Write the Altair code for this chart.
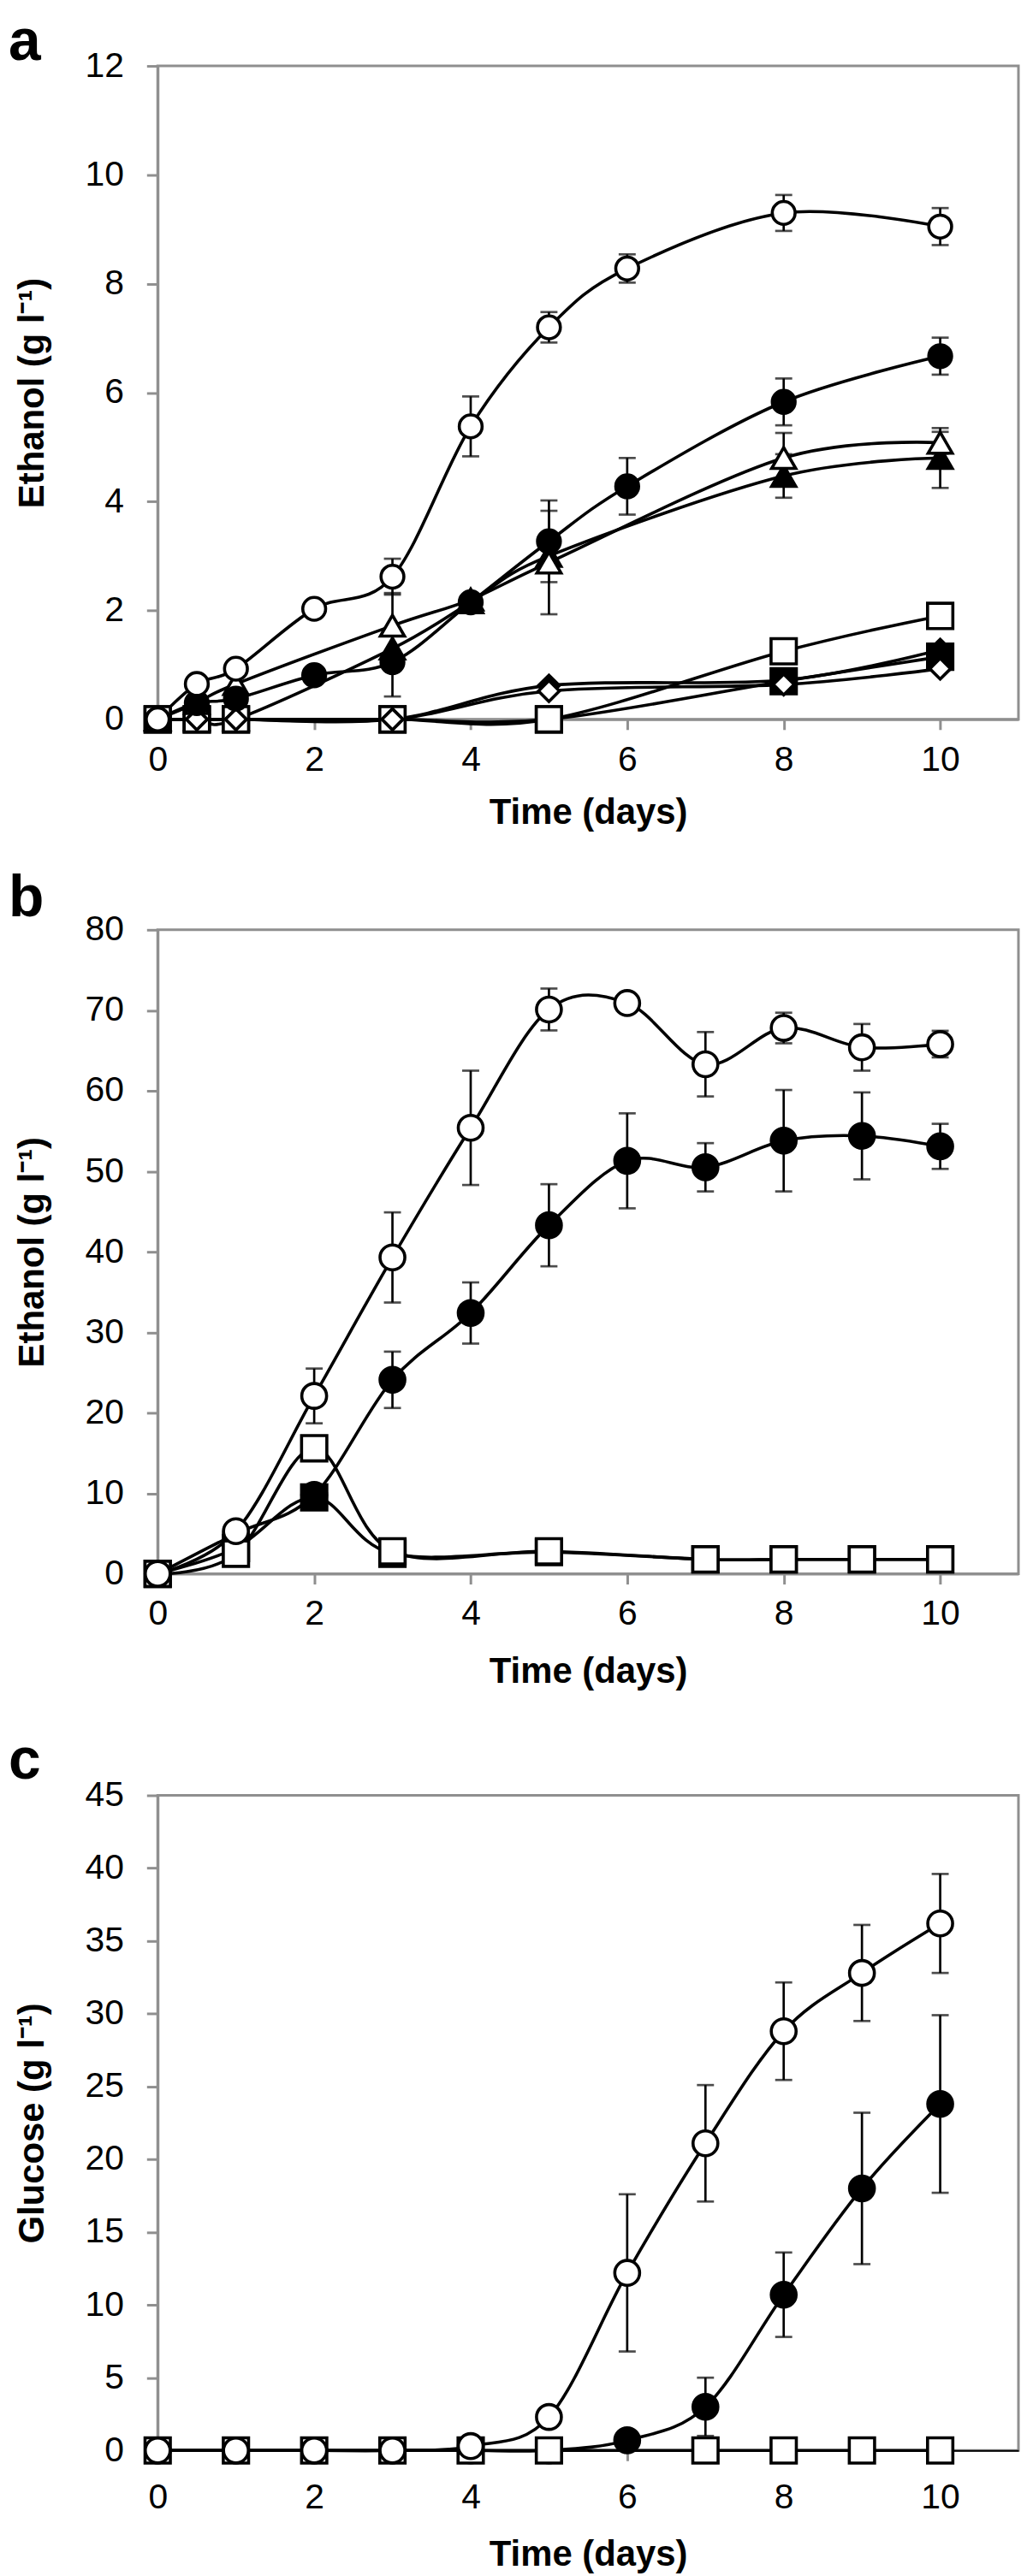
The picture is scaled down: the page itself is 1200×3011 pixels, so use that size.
import altair as alt
import pandas as pd

FONT = "Liberation Sans"
GRAY = "#8f8f8f"

# ---------------- panel a : ethanol ----------------
a_x_circle = [0, 0.5, 1, 2, 3, 4, 5, 6, 8, 10]
a_x_triangle = [0, 0.5, 1, 3, 4, 5, 8, 10]
a_x_square = [0, 0.5, 1, 3, 5, 8, 10]

a_open_circle = [0, 0.65, 0.93, 2.03, 2.62, 5.38, 7.2, 8.28, 9.3, 9.05]
a_open_circle_err = [0, 0, 0, 0.08, 0.33, 0.55, 0.28, 0.26, 0.33, 0.34]
a_filled_circle = [0, 0.3, 0.38, 0.81, 1.05, 2.15, 3.27, 4.28, 5.83, 6.67]
a_filled_circle_err = [0, 0, 0, 0, 0.63, 0.1, 0.75, 0.52, 0.43, 0.34]
a_open_triangle = [0, 0.3, 0.65, 1.72, 2.2, 2.88, 4.8, 5.08]
a_open_triangle_err = [0, 0, 0, 0.6, 0, 0.95, 0.46, 0.2]
a_filled_triangle = [0, 0, 0, 1.3, 2.15, 3.0, 4.47, 4.8]
a_filled_triangle_err = [0, 0, 0, 0, 0, 0, 0.4, 0.55]
a_open_square = [0, 0, 0, 0, 0, 1.25, 1.9]
a_filled_square = [0, 0, 0, 0, 0, 0.7, 1.15]
a_open_diamond = [0, 0, 0, 0, 0.52, 0.64, 0.93]
a_filled_diamond = [0, 0, 0, 0, 0.62, 0.72, 1.28]

# ---------------- panel b : ethanol ----------------
b_x_circle = [0, 1, 2, 3, 4, 5, 6, 7, 8, 9, 10]
b_x_square = [0, 1, 2, 3, 5, 7, 8, 9, 10]

b_open_circle = [0, 5.3, 22.1, 39.3, 55.4, 70.1, 70.9, 63.3, 67.8, 65.4, 65.8]
b_open_circle_err = [0, 0.5, 3.4, 5.6, 7.1, 2.6, 0.8, 4.0, 1.9, 2.9, 1.65]
b_filled_circle = [0, 5.0, 9.8, 24.1, 32.4, 43.3, 51.3, 50.5, 53.8, 54.4, 53.1]
b_filled_circle_err = [0, 0, 0, 3.5, 3.8, 5.1, 5.9, 3.0, 6.3, 5.4, 2.8]
b_open_square = [0, 2.5, 15.6, 2.8, 2.8, 1.8, 1.8, 1.8, 1.8]
b_filled_square = [0, 3.2, 9.5, 2.5, 2.7, 1.8, 1.8, 1.8, 1.8]

# ---------------- panel c : glucose ----------------
c_x_circle = [0, 1, 2, 3, 4, 5, 6, 7, 8, 9, 10]
c_x_square = [0, 1, 2, 3, 4, 5, 7, 8, 9, 10]

c_open_circle = [0, 0, 0, 0, 0.3, 2.3, 12.2, 21.1, 28.8, 32.8, 36.2]
c_open_circle_err = [0, 0, 0, 0, 0, 0.3, 5.4, 4.0, 3.35, 3.3, 3.4]
c_filled_circle = [0, 0, 0, 0, 0, 0, 0.7, 3.0, 10.7, 18.0, 23.8]
c_filled_circle_err = [0, 0, 0, 0, 0, 0, 0.3, 2.0, 2.9, 5.2, 6.1]
c_open_square = [0, 0, 0, 0, 0, 0, 0, 0, 0, 0]

x_ticks = [0, 2, 4, 6, 8, 10]


def ser(name, xs, ys, shape, fill, size, err=None):
    return dict(name=name, x=xs, y=ys, err=err or [0] * len(xs),
                shape=shape, fill=fill, size=size)


def make_panel(series, y_max, y_step, height, y_title, letter, letter_y,
               x_label_pad, x_title_pad, x_domain_color=GRAY, x_domain_width=3):
    x_scale = alt.Scale(domain=[0, 11], nice=False, zero=False)
    y_scale = alt.Scale(domain=[0, y_max], nice=False)
    x_axis = alt.Axis(values=x_ticks, title="Time (days)", grid=False,
                      titleFont=FONT, titleFontSize=42, titleFontWeight="bold",
                      titleColor="black", titlePadding=x_title_pad,
                      labelFont=FONT, labelFontSize=41, labelColor="black",
                      labelPadding=x_label_pad, labelFlush=False, labelOverlap=False,
                      tickSize=12, tickColor=GRAY, tickWidth=3,
                      domainColor=x_domain_color, domainWidth=x_domain_width)
    y_axis = alt.Axis(values=list(range(0, y_max + 1, y_step)), title=y_title,
                      grid=False, titleFont=FONT, titleFontSize=42,
                      titleFontWeight="bold", titleColor="black", titlePadding=40,
                      labelFont=FONT, labelFontSize=41, labelColor="black",
                      labelPadding=27, labelOverlap=False, labelFlush=False,
                      tickSize=13, tickColor=GRAY, tickWidth=3,
                      domainColor=GRAY, domainWidth=3)
    X = alt.X("x:Q", scale=x_scale, axis=x_axis)
    Y = alt.Y("y:Q", scale=y_scale, axis=y_axis)

    line_rows, err_rows, cap_rows = [], [], []
    for s in series:
        for xv, yv, ev in zip(s["x"], s["y"], s["err"]):
            line_rows.append({"s": s["name"], "x": xv, "y": yv})
            if ev > 0:
                err_rows.append({"s": s["name"], "x": xv, "y": yv - ev, "y2": yv + ev})
                cap_rows.append({"s": s["name"], "x": xv, "y": yv - ev})
                cap_rows.append({"s": s["name"], "x": xv, "y": yv + ev})

    lines = alt.Chart(pd.DataFrame(line_rows)).mark_line(
        interpolate="cardinal", color="black", strokeWidth=3.6
    ).encode(x=X, y=Y, detail="s:N")

    rules = alt.Chart(pd.DataFrame(err_rows)).mark_rule(
        color="black", strokeWidth=2.7
    ).encode(x=X, y=Y, y2="y2:Q")

    caps = alt.Chart(pd.DataFrame(cap_rows)).mark_tick(
        orient="horizontal", color="black", size=20, thickness=2.7
    ).encode(x=X, y=Y)

    points = []
    for s in series:
        df = pd.DataFrame({"x": s["x"], "y": s["y"]})
        points.append(
            alt.Chart(df).mark_point(
                shape=s["shape"], filled=True, fill=s["fill"], stroke="black",
                strokeWidth=3.6, size=s["size"], opacity=1, fillOpacity=1
            ).encode(x=X, y=Y)
        )

    lab = alt.Chart(pd.DataFrame({"t": [letter]})).mark_text(
        align="left", baseline="alphabetic", font=FONT, fontSize=68,
        fontWeight="bold", color="black"
    ).encode(text="t:N", x=alt.value(-175), y=alt.value(letter_y))

    return alt.layer(lines, rules, caps, *points, lab).properties(
        width=1010, height=height)


SQ, TR, DI = 880, 800, 600

panel_a = make_panel([
    ser("ft", a_x_triangle, a_filled_triangle, "triangle-up", "black", TR, a_filled_triangle_err),
    ser("fs", a_x_square, a_filled_square, "square", "black", SQ),
    ser("os", a_x_square, a_open_square, "square", "white", SQ),
    ser("fd", a_x_square, a_filled_diamond, "diamond", "black", DI),
    ser("od", a_x_square, a_open_diamond, "diamond", "white", DI),
    ser("ot", a_x_triangle, a_open_triangle, "triangle-up", "white", TR, a_open_triangle_err),
    ser("fc", a_x_circle, a_filled_circle, "circle", "black", 720, a_filled_circle_err),
    ser("oc", a_x_circle, a_open_circle, "circle", "white", 720, a_open_circle_err),
], 12, 2, 767, "Ethanol (g l⁻¹)", "a", -7, 15.5, 22)

panel_b = make_panel([
    ser("fc", b_x_circle, b_filled_circle, "circle", "black", 850, b_filled_circle_err),
    ser("fs", b_x_square, b_filled_square, "square", "black", SQ),
    ser("os", b_x_square, b_open_square, "square", "white", SQ),
    ser("oc", b_x_circle, b_open_circle, "circle", "white", 850, b_open_circle_err),
], 80, 10, 756, "Ethanol (g l⁻¹)", "b", -16, 15.5, 27)

panel_c = make_panel([
    ser("fc", c_x_circle, c_filled_circle, "circle", "black", 850, c_filled_circle_err),
    ser("os", c_x_square, c_open_square, "square", "white", SQ),
    ser("oc", c_x_circle, c_open_circle, "circle", "white", 850, c_open_circle_err),
], 45, 5, 769, "Glucose (g l⁻¹)", "c", -20, 23.5, 26, "black", 2)

top_two = alt.vconcat(panel_a, panel_b, spacing=43)

chart = alt.vconcat(top_two, panel_c, spacing=47).properties(
    padding=0
).configure_view(stroke=GRAY, strokeWidth=3)

chart.save("out.html", embed_options={"renderer": "svg", "actions": False})
